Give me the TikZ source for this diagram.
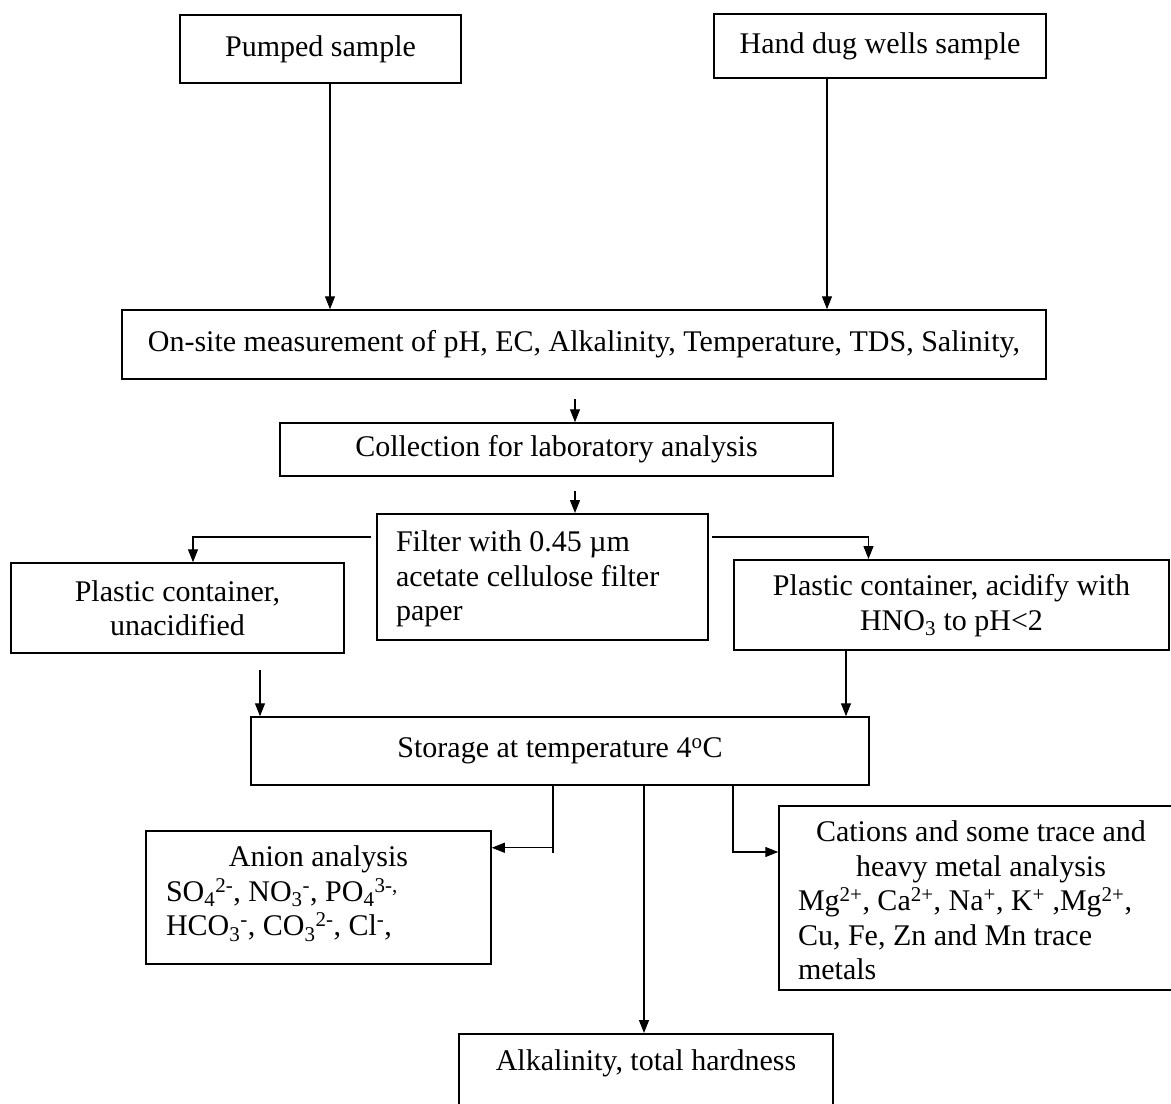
\documentclass[tikz,border=0pt]{standalone}
\usepackage{fontspec}
\setmainfont{Liberation Serif}
\usetikzlibrary{arrows.meta}
\begin{document}
\begin{tikzpicture}[x=1pt,y=-1pt,
  box/.style={draw,line width=1.5pt,inner sep=0pt,align=center,font=\fontsize{30}{34.5}\selectfont},
  conn/.style={line width=1.2pt},
  arr/.style={conn,-{Triangle[length=13pt,width=10pt]}}]
\useasboundingbox (0,0) rectangle (1171,1104);
\clip (0,0) rectangle (1171,1104);

\node[box,minimum width=281pt,minimum height=68pt] (pump) at (320.5,49) {Pumped sample};
\node[box,minimum width=332pt,minimum height=64pt] (hand) at (880,46) {Hand dug wells sample};
\node[box,minimum width=924pt,minimum height=69pt] (onsite) at (584,344.5) {On-site measurement of pH, EC, Alkalinity, Temperature, TDS, Salinity,};
\node[box,minimum width=553pt,minimum height=53pt] (coll) at (556.5,449.5) {Collection for laboratory analysis};
\node[box,align=flush left,text width=293pt,minimum width=331pt,text height=38pt,text depth=88pt,anchor=north] (filter) at (542.5,513) {Filter with 0.45 µm\\acetate cellulose filter\\paper};
\node[box,minimum width=333pt,minimum height=90pt] (pl) at (177.5,608) {Plastic container,\\unacidified};
\node[box,align=flush center,text width=400pt,minimum width=435pt,text height=36pt,text depth=54pt,anchor=north] (pr) at (951.5,559) {Plastic container, acidify with\\HNO\textsubscript{3} to pH<2};
\node[box,minimum width=618pt,minimum height=68pt] (storage) at (560,751) {Storage at temperature 4\textsuperscript{o}C};
\node[box,align=flush left,text width=305pt,minimum width=345pt,text height=36pt,text depth=97pt,anchor=north] (anion) at (318.5,830)
  {\makebox[305pt]{Anion analysis}\\
   SO\textsubscript{4}\textsuperscript{2-}, NO\textsubscript{3}\textsuperscript{-}, PO\textsubscript{4}\textsuperscript{3-,}\\
   HCO\textsubscript{3}\textsuperscript{-}, CO\textsubscript{3}\textsuperscript{2-}, Cl\textsuperscript{-},};
\node[box,align=flush left,text width=366pt,minimum width=404pt,text height=36pt,text depth=148pt,anchor=north] (cat) at (981,805)
  {\makebox[366pt]{Cations and some trace and}\\
   \makebox[366pt]{heavy metal analysis}\\
   Mg\textsuperscript{2+}, Ca\textsuperscript{2+}, Na\textsuperscript{+}, K\textsuperscript{+} ,Mg\textsuperscript{2+},\\
   Cu, Fe, Zn and Mn trace\\metals};
\node[box,anchor=north,minimum width=374pt,text height=37pt,text depth=40pt] (bottom) at (646,1033) {Alkalinity, total hardness};

\draw[arr] ([xshift=9.5pt]pump.south) -- ([xshift=9.5pt]pump.south |- onsite.north);
\draw[arr] ([xshift=-53pt]hand.south) -- ([xshift=-53pt]hand.south |- onsite.north);
\draw[arr] ([xshift=18.5pt,yshift=23pt]coll.north) -- ([xshift=18.5pt]coll.north);
\draw[arr] ([xshift=32.5pt,yshift=22pt]filter.north) -- ([xshift=32.5pt]filter.north);
\draw[arr] ([xshift=-5pt,yshift=-24pt]filter.north west) -| ([xshift=15.5pt]pl.north);
\draw[arr] ([xshift=3pt,yshift=-24pt]filter.north east) -| ([xshift=-83pt]pr.north);
\draw[arr] ([xshift=-300pt,yshift=46pt]storage.north) -- ([xshift=-300pt]storage.north);
\draw[arr] ([xshift=286pt]storage.north |- pr.south) -- ([xshift=286pt]storage.north);
\draw[conn] ([xshift=-7pt]storage.south) -- ([xshift=-7pt,yshift=-67pt]storage.south);
\coordinate (ajoin) at ([xshift=-7pt,yshift=-62pt]storage.south);
\draw[arr] (ajoin) -- (ajoin -| anion.east);
\draw[arr] ([xshift=-2pt]bottom.north |- storage.south) -- ([xshift=-2pt]bottom.north);
\draw[arr] ([xshift=173pt]storage.south) |- ([yshift=-47pt]cat.north west);
\end{tikzpicture}
\end{document}
